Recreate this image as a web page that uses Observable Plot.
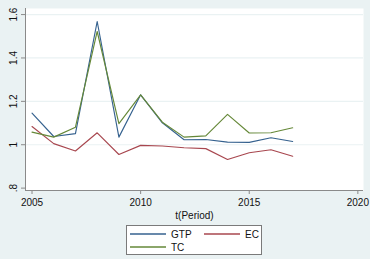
<!DOCTYPE html>
<html>
<head>
<meta charset="utf-8">
<script src="https://cdn.jsdelivr.net/npm/d3@7"></script>
<script src="https://cdn.jsdelivr.net/npm/@observablehq/plot@0.6"></script>
<style>
  html, body { margin: 0; padding: 0; }
  body { width: 370px; height: 259px; background: #EAF2F3; overflow: hidden; font-family: "Liberation Sans", Arial, sans-serif; }
  #wrap { position: relative; width: 370px; height: 259px; }
  #wrap > svg { position: absolute; left: 0; top: 0; overflow: visible; max-width: none !important; }
  #legend { position: absolute; left: 126px; top: 225px; width: 136px; height: 30px; background: #fff; border: 1px solid #7a7a7a; box-sizing: border-box; font-size: 10px; color: #111; }
  .item { position: absolute; display: flex; align-items: center; height: 12px; }
  .item svg { display: block; margin-right: 5px; }
</style>
</head>
<body>
<div id="wrap"></div>
<script>
const years = [2005, 2006, 2007, 2008, 2009, 2010, 2011, 2012, 2013, 2014, 2015, 2016, 2017];
const seriesNames = ["GTP", "EC", "TC"];
const gtp = [1.146, 1.038, 1.051, 1.568, 1.035, 1.230, 1.101, 1.023, 1.024, 1.012, 1.011, 1.032, 1.015];
const ec  = [1.084, 1.005, 0.971, 1.055, 0.955, 0.997, 0.994, 0.986, 0.982, 0.932, 0.963, 0.977, 0.947];
const tc  = [1.058, 1.035, 1.081, 1.522, 1.097, 1.230, 1.104, 1.035, 1.041, 1.140, 1.054, 1.055, 1.078];
const colors = ["#36628f", "#a8474f", "#658838"];
const xTicks = [2005, 2010, 2015, 2020];
const yTicks = [0.8, 1, 1.2, 1.4, 1.6];
const gridTicks = [1, 1.2, 1.4, 1.6];
const xDomain = [2004.70, 2020.26];
const yDomain = [0.789, 1.628];

const values = {GTP: gtp, EC: ec, TC: tc};
const data = [];
for (const s of seriesNames) years.forEach((y, i) => data.push({year: y, value: values[s][i], series: s}));

const fmtY = d => d === 1 ? "1" : d.toFixed(1).replace(/^0/, "");

const chart = Plot.plot({
  width: 370,
  height: 224,
  marginLeft: 25,
  marginRight: 7,
  marginTop: 8,
  marginBottom: 34,
  style: {background: "transparent", fontFamily: "Liberation Sans, Arial, sans-serif", fontSize: "10px", color: "#111", overflow: "visible"},
  x: {domain: xDomain},
  y: {domain: yDomain},
  color: {domain: seriesNames, range: colors},
  marks: [
    Plot.frame({fill: "white", stroke: null}),
    Plot.ruleY(gridTicks, {stroke: "#EAF2F3", strokeWidth: 1.2}),
    Plot.ruleX([xDomain[0]], {stroke: "#8a8a8a", strokeWidth: 1}),
    Plot.ruleY([yDomain[0]], {stroke: "#8a8a8a", strokeWidth: 1}),
    Plot.axisY({ticks: yTicks, tickFormat: fmtY, tickSize: 4, tickPadding: 5, tickRotate: -90, textAnchor: "middle", stroke: "#8a8a8a", label: null, fill: "#111"}),
    Plot.axisX({ticks: xTicks, tickFormat: d => String(d), tickSize: 4, tickPadding: 4, stroke: "#8a8a8a", label: "t(Period)", labelAnchor: "center", labelArrow: "none", labelOffset: 28, fill: "#111"}),
    Plot.line(data, {x: "year", y: "value", z: "series", stroke: "series", strokeWidth: 1.15})
  ]
});
const wrap = document.getElementById("wrap");
wrap.appendChild(chart);

const legend = document.createElement("div");
legend.id = "legend";
const pos = [{left: 3, top: 2}, {left: 77, top: 2}, {left: 3, top: 15}];
seriesNames.forEach((s, i) => {
  const it = document.createElement("div");
  it.className = "item";
  it.style.left = pos[i].left + "px";
  it.style.top = pos[i].top + "px";
  it.innerHTML = `<svg width="36" height="4"><line x1="0" y1="2" x2="36" y2="2" stroke="${colors[i]}" stroke-width="1.3"/></svg><span>${s}</span>`;
  legend.appendChild(it);
});
wrap.appendChild(legend);
</script>
</body>
</html>
